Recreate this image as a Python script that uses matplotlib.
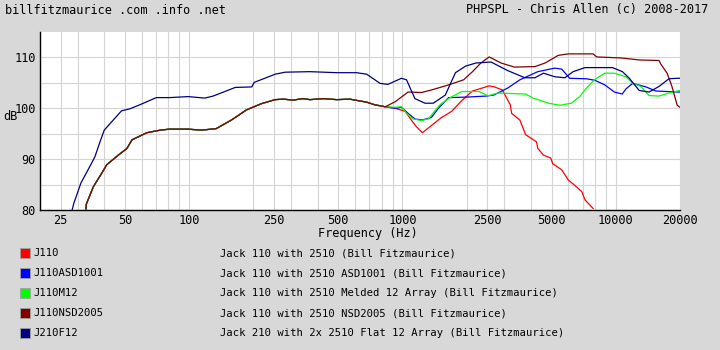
import matplotlib
matplotlib.use("Agg")
import matplotlib.pyplot as plt
from matplotlib.patches import Rectangle

plt.rcParams['font.family'] = ['DejaVu Sans Mono']

# shared low end of the J110 family (all four curves sit on top of each other here)
base_f = [32.8, 33.0, 35.6, 38.9, 41.1, 46.6, 51.1, 54.0, 63.4, 73.2, 81, 99, 114, 134, 158,
          186, 218, 253, 277, 307, 341, 369, 426, 492, 566, 680, 740]
base_db = [80.2, 81.2, 84.6, 87.2, 88.9, 90.8, 92.1, 93.8, 95.2, 95.7, 95.9, 95.9, 95.7, 96.0, 97.7,
           99.7, 100.9, 101.7, 101.8, 101.6, 101.9, 101.7, 101.9, 101.7, 101.8, 101.2, 100.7]

# J110
j110_f = [830, 926, 1030, 1100, 1160, 1240, 1320, 1515, 1700, 1895, 2130, 2330, 2550, 2700, 2940,
          3200, 3250, 3550, 3780, 4250, 4310, 4580, 4960, 5060, 5580, 5990, 6400, 6930, 7170, 7830]
j110_db = [100.3, 100.0, 99.4, 97.7, 96.4, 95.2, 96.1, 98.1, 99.4, 101.5, 103.4, 103.9, 104.4, 104.2, 103.6,
           100.7, 99.0, 97.7, 94.8, 93.4, 92.1, 90.8, 90.2, 89.1, 87.9, 85.9, 84.9, 83.6, 82.0, 80.3]

# J110ASD1001
asd_f = [830, 926, 989, 1063, 1144, 1240, 1367, 1474, 1646, 2000, 2465, 2680, 3120, 3550, 4310,
         5180, 5580, 6080, 7290, 7990, 8880, 9850, 10720, 11150, 12000, 13860, 15400, 19400, 20000]
asd_db = [100.3, 100.0, 100.2, 99.0, 97.9, 97.7, 98.2, 100.0, 102.1, 102.2, 102.4, 102.6, 104.0, 105.6, 107.2,
          107.9, 107.7, 105.9, 105.8, 105.5, 104.6, 103.2, 102.8, 103.8, 104.9, 104.2, 103.4, 103.2, 103.2]

# J110M12
m12_f = [830, 926, 989, 1045, 1120, 1228, 1320, 1500, 1660, 1895, 2290, 2465, 2550, 2800, 3780,
         4100, 4830, 5480, 6190, 6780, 7290, 7990, 8880, 9850, 11150, 12000, 13100, 14330, 15950,
         17750, 19400, 20000]
m12_db = [100.3, 100.2, 100.3, 99.0, 97.9, 97.6, 97.9, 100.7, 102.0, 103.3, 103.3, 102.6, 102.5, 103.0, 102.8,
          102.0, 101.0, 100.6, 101.0, 102.3, 104.0, 105.7, 106.9, 106.9, 106.2, 104.9, 104.3, 102.5, 102.4,
          103.0, 103.4, 103.5]

# J110NSD2005
nsd_f = [830, 926, 1063, 1228, 1367, 1646, 1935, 2130, 2330, 2550, 2900, 3350, 4180, 4660, 5370,
         5990, 7830, 8130, 10540, 12950, 15950, 16250, 17400, 18330, 19400, 20000]
nsd_db = [100.3, 101.3, 103.2, 103.1, 103.6, 104.6, 105.6, 107.2, 108.9, 110.1, 108.9, 108.1, 108.2, 108.9, 110.4,
          110.7, 110.7, 110.1, 109.9, 109.5, 109.4, 108.7, 106.9, 104.3, 100.6, 100.2]

# J210F12
j210_f = [28.3, 28.8, 31.1, 34.9, 36.2, 38.0, 40.0, 48.2, 52.8, 58.8, 70.2, 81, 99, 118.4, 129.5,
          164.6, 196.7, 202, 253, 282, 369, 492, 609, 680, 785, 855, 989, 1045, 1144, 1275, 1395,
          1588, 1772, 1978, 2210, 2600, 3120, 3750, 4180, 4580, 5180, 5770, 6310, 7170, 9650, 10750,
          11570, 12880, 14330, 15950, 17750, 19400, 20000]
j210_db = [80.0, 81.3, 85.3, 89.2, 90.5, 93.1, 95.7, 99.5, 99.9, 100.7, 102.1, 102.1, 102.3, 102.0, 102.4,
           104.1, 104.2, 105.1, 106.7, 107.1, 107.2, 107.0, 107.0, 106.7, 104.9, 104.7, 105.9, 105.6, 101.9, 101.0, 101.0,
           102.6, 107.0, 108.3, 108.9, 109.1, 107.4, 106.0, 106.0, 106.9, 106.2, 106.0, 107.2, 108.0, 108.0, 107.2,
           105.9, 103.5, 103.2, 104.3, 105.8, 105.9, 105.9]

names = ["J110", "J110ASD1001", "J110M12", "J110NSD2005", "J210F12"]
descriptions = ["Jack 110 with 2510 (Bill Fitzmaurice)",
                "Jack 110 with 2510 ASD1001 (Bill Fitzmaurice)",
                "Jack 110 with 2510 Melded 12 Array (Bill Fitzmaurice)",
                "Jack 110 with 2510 NSD2005 (Bill Fitzmaurice)",
                "Jack 210 with 2x 2510 Flat 12 Array (Bill Fitzmaurice)"]
colors = ["#ff0000", "#0000ff", "#00ff00", "#800000", "#000080"]

tick_vals = [25, 50, 100, 250, 500, 1000, 2500, 5000, 10000, 20000]
grid_vals = [20, 30, 40, 60, 70, 80, 90, 200, 300, 400, 600, 700, 800, 900,
             2000, 3000, 4000, 6000, 7000, 8000, 9000]

curves = [(base_f + j110_f, base_db + j110_db),
          (base_f + asd_f, base_db + asd_db),
          (base_f + m12_f, base_db + m12_db),
          (base_f + nsd_f, base_db + nsd_db),
          (j210_f, j210_db)]

bg = "#d8d8d8"
fig = plt.figure(figsize=(7.2, 3.5), dpi=100, facecolor=bg)
ax = fig.add_axes([40/720, 1 - 210/350, 640/720, 178/350])
ax.set_facecolor("white")

for (f, db), c in zip(curves, colors):
    ax.plot(f, db, color=c, lw=0.9)

ax.set_xscale("log")
ax.set_xlim(20, 20000)
ax.set_ylim(80, 115)
ax.set_xticks(tick_vals)
ax.set_xticklabels([str(v) for v in tick_vals])
ax.set_xticks(grid_vals, minor=True)
ax.set_xticklabels([], minor=True)
ax.set_yticks([80, 90, 100, 110])
ax.set_yticks([85, 95, 105], minor=True)
ax.grid(True, which="both", color="#d4d4d4", lw=0.8)
ax.set_axisbelow(True)
ax.tick_params(which="both", length=0, labelsize=8.6, pad=3)
for s in ["top", "right"]:
    ax.spines[s].set_visible(False)
for s in ["left", "bottom"]:
    ax.spines[s].set_color("black")
    ax.spines[s].set_linewidth(1)

fig.text(5/720, 1 - 10/350, "billfitzmaurice .com .info .net", fontsize=8.6, va="center", ha="left")
fig.text(708/720, 1 - 10/350, "PHPSPL - Chris Allen (c) 2008-2017", fontsize=8.6, va="center", ha="right")
fig.text(3/720, 1 - 117/350, "dB", fontsize=8.6, va="center", ha="left")
fig.text(368/720, 1 - 234/350, "Frequency (Hz)", fontsize=8.6, va="center", ha="center")

# legend rows under the chart
for i in range(len(names)):
    yc = 253 + 20 * i
    fig.patches.append(Rectangle((20/720, 1 - (yc + 5)/350), 10/720, 10/350,
                                 transform=fig.transFigure, facecolor=colors[i],
                                 edgecolor="#a0a0a0", lw=0.6))
    fig.text(33/720, 1 - yc/350, names[i], fontsize=7.6, va="center", ha="left")
    fig.text(220/720, 1 - yc/350, descriptions[i], fontsize=7.6, va="center", ha="left")

fig.savefig("out.png", dpi=100, facecolor=bg)
